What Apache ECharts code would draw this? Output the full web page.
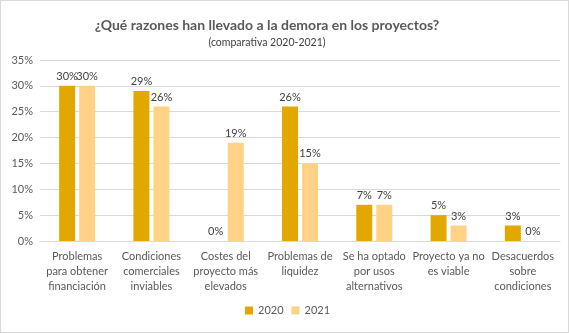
<!DOCTYPE html>
<html><head><meta charset="utf-8">
<script src="https://cdn.jsdelivr.net/npm/echarts@6/dist/echarts.min.js"></script>
<style>html,body{margin:0;padding:0;background:#fff}#c{width:567px;height:331px;border:1px solid #d9d9d9}</style>
</head><body><div id="c"></div>
<script>
const categories = ["Problemas\npara obtener\nfinanciación","Condiciones\ncomerciales\ninviables","Costes del\nproyecto más\nelevados","Problemas de\nliquidez","Se ha optado\npor usos\nalternativos","Proyecto ya no\nes viable","Desacuerdos\nsobre\ncondiciones"];
const values2020 = [30,29,0,26,7,5,3];
const values2021 = [30,26,19,15,7,3,0];
const seriesNames = ["2020","2021"];
const font = "Lato, 'Open Sans', sans-serif";
const chart = echarts.init(document.getElementById('c'));
const lbl = {show:true, position:'top', formatter: p => p.value + '%', color:'#404040', fontSize:11, fontFamily:font, distance:4};
chart.setOption({
  animation:false,
  title:[
    {text:'¿Qué razones han llevado a la demora en los proyectos?', left:261, textAlign:'center', top:12,
     textStyle:{fontSize:14, fontWeight:'bold', color:'#595959', fontFamily:font}},
    {text:'(comparativa 2020-2021)', left:261, textAlign:'center', top:31,
     textStyle:{fontSize:10.5, fontWeight:'normal', color:'#404040', fontFamily:font}}
  ],
  legend:{bottom:11, left:239, itemWidth:8, itemHeight:8, itemGap:8, icon:'rect', textStyle:{fontSize:11, color:'#595959', fontFamily:font}},
  grid:{left:39, right:8, top:59, bottom:91, containLabel:false},
  xAxis:{type:'category', data:categories, axisTick:{show:false}, axisLine:{lineStyle:{color:'#d9d9d9'}},
    axisLabel:{interval:0, color:'#595959', fontSize:11, fontFamily:font, lineHeight:15, margin:8}},
  yAxis:{type:'value', min:0, max:35, interval:5, axisLabel:{formatter:'{value}%', color:'#595959', fontSize:11, fontFamily:font, margin:7},
    splitLine:{lineStyle:{color:'#d9d9d9'}}, axisLine:{show:false}},
  series:[
    {name:seriesNames[0], type:'bar', data:values2020, barWidth:16, barGap:'25%', itemStyle:{color:'#E2A800'}, label:lbl},
    {name:seriesNames[1], type:'bar', data:values2021, barWidth:16, itemStyle:{color:'#FFD285'}, label:lbl}
  ]
});
</script></body></html>
